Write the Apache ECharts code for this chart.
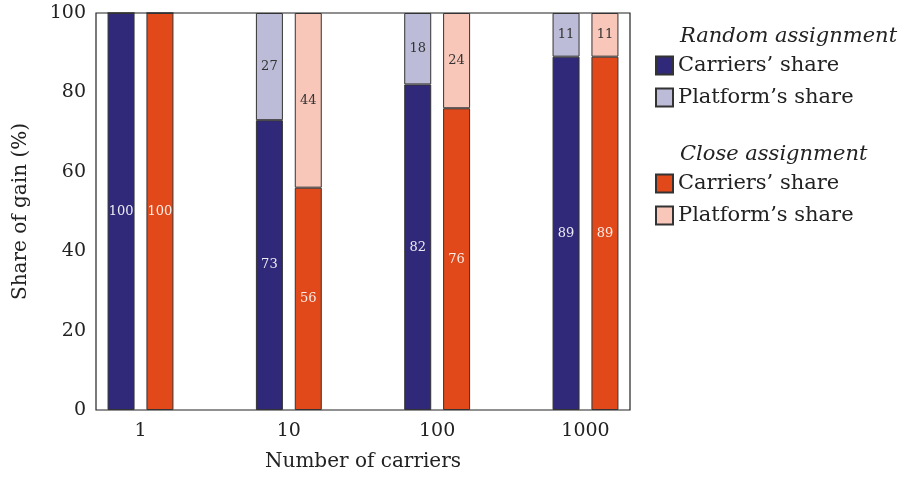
<!DOCTYPE html>
<html>
<head>
<meta charset="utf-8">
<script src="https://cdn.jsdelivr.net/npm/echarts@6/dist/echarts.min.js"></script>
<style>
html,body{margin:0;padding:0;background:#fff;}
#chart{width:906px;height:477px;}
</style>
</head>
<body>
<div id="chart"></div>
<script>
const categories = ['1', '10', '100', '1000'];
const randomCarriers = [100, 73, 82, 89];
const randomPlatform = [0, 27, 18, 11];
const closeCarriers = [100, 56, 76, 89];
const closePlatform = [0, 44, 24, 11];
const yTicks = [0, 20, 40, 60, 80, 100];
const legendNames = {
  rc: 'Carriers\u2019 share', rp: 'Platform\u2019s share',
  cc: 'Carriers\u2019 share', cp: 'Platform\u2019s share'
};

const FONT = 'DejaVu Serif';
// value first, category index second (so the value dimension is the stacked one)
const pairs = arr => arr.map((v, i) => [v, i]);

function mk(id, stack, data, color, labelColor) {
  return {
    id: id, name: id, type: 'bar', stack: stack,
    data: pairs(data),
    encode: { x: 1, y: 0 },
    barWidth: 27, barGap: '44%',
    itemStyle: { color: color, borderColor: '#333', borderWidth: 1 },
    label: {
      show: true, position: 'inside', color: labelColor,
      fontFamily: FONT, fontSize: 13,
      formatter: p => (p.value[0] ? String(p.value[0]) : '')
    },
    emphasis: { disabled: true }
  };
}

const chart = echarts.init(document.getElementById('chart'), null, { renderer: 'canvas' });
chart.setOption({
  animation: false,
  backgroundColor: '#fff',
  grid: { left: 96, right: 276, top: 13, bottom: 66, show: true, borderColor: '#222', borderWidth: 1.2, backgroundColor: 'transparent' },
  title: [
    { text: 'Random assignment', left: 675, top: 21, textStyle: { fontFamily: FONT, fontStyle: 'italic', fontWeight: 'normal', fontSize: 21, color: '#222' } },
    { text: 'Close assignment', left: 675, top: 139, textStyle: { fontFamily: FONT, fontStyle: 'italic', fontWeight: 'normal', fontSize: 21, color: '#222' } }
  ],
  legend: [
    { data: ['rc', 'rp'], orient: 'vertical', left: 650, top: 50, itemWidth: 17, itemHeight: 18, itemGap: 11, icon: 'rect',
      formatter: n => legendNames[n], textStyle: { fontFamily: FONT, fontSize: 21, color: '#222' } },
    { data: ['cc', 'cp'], orient: 'vertical', left: 650, top: 168, itemWidth: 17, itemHeight: 18, itemGap: 11, icon: 'rect',
      formatter: n => legendNames[n], textStyle: { fontFamily: FONT, fontSize: 21, color: '#222' } }
  ],
  xAxis: {
    type: 'value', min: -0.3, max: 3.3,
    name: 'Number of carriers', nameLocation: 'middle', nameGap: 42,
    nameTextStyle: { fontFamily: FONT, fontSize: 20, color: '#222' },
    axisLine: { show: false }, axisTick: { show: false }, splitLine: { show: false },
    axisLabel: { customValues: categories.map((c, i) => i), formatter: v => categories[v] ?? '', margin: 12,
      fontFamily: FONT, fontSize: 19, color: '#222' }
  },
  yAxis: {
    type: 'value', min: 0, max: 100, interval: 20,
    name: 'Share of gain (%)', nameLocation: 'middle', nameGap: 65,
    nameTextStyle: { fontFamily: FONT, fontSize: 20, color: '#222' },
    axisLine: { show: false }, axisTick: { show: false }, splitLine: { show: false },
    axisLabel: { customValues: yTicks, margin: 10, fontFamily: FONT, fontSize: 19, color: '#222' }
  },
  series: [
    mk('rc', 'random', randomCarriers, '#302879', '#ececf4'),
    mk('rp', 'random', randomPlatform, '#bcbcd8', '#333'),
    mk('cc', 'close', closeCarriers, '#e2491a', '#fbeee8'),
    mk('cp', 'close', closePlatform, '#f8c7b9', '#333')
  ]
});
</script>
</body>
</html>
